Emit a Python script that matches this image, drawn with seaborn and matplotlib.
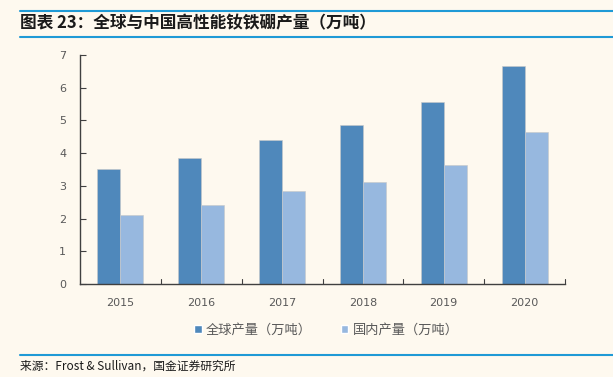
import matplotlib
matplotlib.use("Agg")
import matplotlib.pyplot as plt
import seaborn as sns
import pandas as pd
from matplotlib.lines import Line2D
from matplotlib.patches import Patch

years = ["2015", "2016", "2017", "2018", "2019", "2020"]
global_output = [3.52, 3.84, 4.40, 4.87, 5.57, 6.65]
china_output = [2.11, 2.40, 2.83, 3.13, 3.64, 4.64]
series_names = ["全球产量（万吨）", "国内产量（万吨）"]
y_ticks = [0, 1, 2, 3, 4, 5, 6, 7]
title = "图表 23：全球与中国高性能钕铁硼产量（万吨）"
source = "来源：Frost & Sullivan，国金证券研究所"

sns.set_theme(style="white")
plt.rcParams["font.family"] = ["Noto Sans CJK SC", "DejaVu Sans"]

bg = "#FEF9EF"
colors = ["#4F88BB", "#97B8DF"]
line_blue = "#1F9AD6"

df = pd.DataFrame({
    "year": years * 2,
    "value": global_output + china_output,
    "series": [series_names[0]] * len(years) + [series_names[1]] * len(years),
})

fig = plt.figure(figsize=(6.13, 3.77), dpi=100, facecolor=bg)
ax = fig.add_axes([80 / 613, 1 - 284 / 377, (565 - 80) / 613, (284 - 55) / 377])
ax.set_facecolor(bg)

sns.barplot(data=df, x="year", y="value", hue="series", palette=colors,
            width=0.57, gap=0, ax=ax, legend=False, saturation=1,
            edgecolor="#C8C8C8", linewidth=0.4)

ax.set_xlim(-0.5, len(years) - 0.5)
ax.set_ylim(0, 7)
ax.set_yticks(y_ticks)
ax.set_xlabel("")
ax.set_ylabel("")

for s in ["top", "right"]:
    ax.spines[s].set_visible(False)
for s in ["left", "bottom"]:
    ax.spines[s].set_color("#404040")
    ax.spines[s].set_linewidth(1.0)

ax.tick_params(axis="y", direction="in", length=4, width=0.8, color="#404040",
               labelsize=8, labelcolor="#595959", pad=10, left=True)
ax.tick_params(axis="x", length=0, labelsize=8, labelcolor="#595959", pad=10)
for lbl in ax.get_xticklabels() + ax.get_yticklabels():
    lbl.set_fontfamily(["DejaVu Sans"])

# category boundary ticks on x axis (inward)
for b in [i + 0.5 for i in range(len(years))]:
    ax.plot([b, b], [0, 0.15], color="#404040", lw=0.8, clip_on=False,
            transform=ax.transData)

handles = [Patch(facecolor=colors[0]), Patch(facecolor=colors[1])]
fig.legend(handles, series_names, loc="center", bbox_to_anchor=(326 / 613, 1 - 330 / 377),
           ncol=2, frameon=False, fontsize=9.5, handlelength=0.6, handleheight=0.6,
           handletextpad=0.3, columnspacing=2.2, labelcolor="#595959")

# decorative lines
for yy, x0 in [(10.5, 20), (37, 20), (355, 20)]:
    fig.add_artist(Line2D([x0 / 613, 1], [1 - yy / 377, 1 - yy / 377],
                          color=line_blue, lw=1.5, transform=fig.transFigure))

fig.text(20 / 613, 1 - 23 / 377, title, fontsize=12, fontweight="bold",
         color="#1A1A1A", va="center", ha="left", style="italic")
fig.text(20 / 613, 1 - 366 / 377, source, fontsize=8.5, color="#1A1A1A",
         va="center", ha="left")

fig.savefig("out.png", dpi=100, facecolor=bg)
